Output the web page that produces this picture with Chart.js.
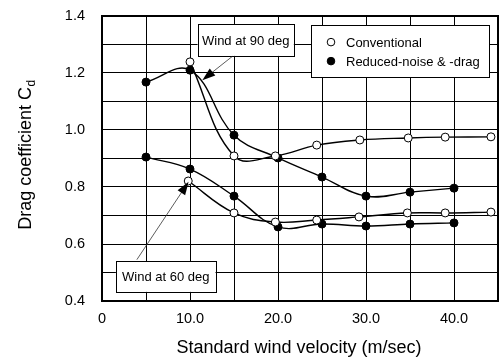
<!DOCTYPE html>
<html>
<head>
<meta charset="utf-8">
<script src="https://cdn.jsdelivr.net/npm/chart.js@4/dist/chart.umd.min.js"></script>
<style>
html,body{margin:0;padding:0;background:#fff;}
#wrap{width:503px;height:363px;position:relative;}
</style>
</head>
<body>
<div id="wrap"><canvas id="c" width="503" height="363"></canvas></div>
<script>
// ---- data ----
const conv90X = [10, 15, 19.7, 24.4, 29.3, 34.8, 39.0, 44.2];
const conv90Y = [1.239, 0.909, 0.909, 0.947, 0.965, 0.972, 0.975, 0.976];
const red90X  = [5, 10, 15, 20, 25, 30, 35, 40];
const red90Y  = [1.168, 1.21, 0.982, 0.902, 0.835, 0.768, 0.782, 0.796];
const conv60X = [9.8, 15, 19.7, 24.4, 29.2, 34.7, 39.0, 44.2];
const conv60Y = [0.821, 0.709, 0.677, 0.684, 0.695, 0.709, 0.709, 0.712];
const red60X  = [5, 10, 15, 20, 25, 30, 35, 40];
const red60Y  = [0.905, 0.863, 0.768, 0.660, 0.670, 0.663, 0.670, 0.674];

const legendLabels = ['Conventional', 'Reduced-noise & -drag'];
const xTitle = 'Standard wind velocity (m/sec)';
const yTitle = 'Drag coefficient C';
const yTitleSub = 'd';
const note90 = 'Wind at 90 deg';
const note60 = 'Wind at 60 deg';

const pts = (xs, ys) => xs.map((x, i) => ({x, y: ys[i]}));

const FONT = '"Liberation Sans", Arial, sans-serif';

function ds(xs, ys, filled) {
  return {
    data: pts(xs, ys),
    showLine: true,
    borderColor: '#000',
    borderWidth: 1.4,
    tension: 0.4,
    pointRadius: 4,
    pointBorderWidth: 1,
    pointBorderColor: '#000',
    pointBackgroundColor: filled ? '#000' : '#fff',
    pointHoverRadius: 4,
    fill: false
  };
}

// annotation config in data units
const notes = [
  {text: note90, x0: 10.86, x1: 21.8, y0: 1.372, y1: 1.260, ax: 14.8, ay: 1.258, tx: 11.4, ty: 1.175},
  {text: note60, x0: 1.58, x1: 12.9, y0: 0.540, y1: 0.432, ax: 3.96, ay: 0.545, tx: 9.84, ty: 0.818}
];
const legendBox = {x0: 23.75, x1: 44.0, y0: 1.368, y1: 1.186};

const overlay = {
  id: 'overlay',
  afterDatasetsDraw(chart) {
    const ctx = chart.ctx, xs = chart.scales.x, ys = chart.scales.y, a = chart.chartArea;
    ctx.save();
    // frame
    ctx.strokeStyle = '#000';
    ctx.lineWidth = 2;
    ctx.strokeRect(a.left, a.top, a.right - a.left, a.bottom - a.top);

    // annotations
    ctx.font = '13px ' + FONT;
    notes.forEach(n => {
      const L = xs.getPixelForValue(n.x0), R = xs.getPixelForValue(n.x1);
      const T = ys.getPixelForValue(n.y0), B = ys.getPixelForValue(n.y1);
      ctx.fillStyle = '#fff';
      ctx.fillRect(L, T, R - L, B - T);
      ctx.strokeStyle = '#000';
      ctx.lineWidth = 1;
      ctx.strokeRect(Math.round(L) + 0.5, Math.round(T) + 0.5, Math.round(R - L), Math.round(B - T));
      ctx.fillStyle = '#000';
      ctx.textAlign = 'center';
      ctx.textBaseline = 'middle';
      ctx.fillText(n.text, (L + R) / 2, (T + B) / 2 + 1);
      // arrow
      const sx = xs.getPixelForValue(n.ax), sy = ys.getPixelForValue(n.ay);
      const ex = xs.getPixelForValue(n.tx), ey = ys.getPixelForValue(n.ty);
      const ang = Math.atan2(ey - sy, ex - sx);
      const hl = 13, hw = 4.5;
      ctx.strokeStyle = '#333';
      ctx.lineWidth = 0.8;
      ctx.beginPath();
      ctx.moveTo(sx, sy);
      ctx.lineTo(ex - Math.cos(ang) * hl * 0.8, ey - Math.sin(ang) * hl * 0.8);
      ctx.stroke();
      ctx.fillStyle = '#000';
      ctx.beginPath();
      ctx.moveTo(ex, ey);
      const bx = ex - Math.cos(ang) * hl, by = ey - Math.sin(ang) * hl;
      ctx.lineTo(bx + Math.sin(ang) * hw, by - Math.cos(ang) * hw);
      ctx.lineTo(bx - Math.sin(ang) * hw, by + Math.cos(ang) * hw);
      ctx.closePath();
      ctx.fill();
    });

    // legend
    {
      const L = xs.getPixelForValue(legendBox.x0), R = xs.getPixelForValue(legendBox.x1);
      const T = ys.getPixelForValue(legendBox.y0), B = ys.getPixelForValue(legendBox.y1);
      ctx.fillStyle = '#fff';
      ctx.fillRect(L, T, R - L, B - T);
      ctx.strokeStyle = '#000';
      ctx.lineWidth = 1;
      ctx.strokeRect(Math.round(L) + 0.5, Math.round(T) + 0.5, Math.round(R - L), Math.round(B - T));
      ctx.font = '13px ' + FONT;
      ctx.textAlign = 'left';
      ctx.textBaseline = 'middle';
      legendLabels.forEach((lab, i) => {
        const cy = T + 17 + i * 19;
        ctx.beginPath();
        ctx.arc(L + 20, cy, 3.8, 0, Math.PI * 2);
        ctx.fillStyle = i === 0 ? '#fff' : '#000';
        ctx.fill();
        ctx.strokeStyle = '#000';
        ctx.lineWidth = 1;
        ctx.stroke();
        ctx.fillStyle = '#000';
        ctx.fillText(lab, L + 35, cy + 1);
      });
    }

    // axis titles
    ctx.fillStyle = '#000';
    ctx.font = '18px ' + FONT;
    ctx.textAlign = 'center';
    ctx.textBaseline = 'middle';
    ctx.fillText(xTitle, 299, 348);

    ctx.save();
    ctx.translate(24, 155);
    ctx.rotate(-Math.PI / 2);
    ctx.font = '18px ' + FONT;
    const w1 = ctx.measureText(yTitle).width;
    ctx.font = '12px ' + FONT;
    const w2 = ctx.measureText(yTitleSub).width;
    const start = -(w1 + w2) / 2;
    ctx.textAlign = 'left';
    ctx.textBaseline = 'alphabetic';
    ctx.font = '18px ' + FONT;
    ctx.fillText(yTitle, start, 7);
    ctx.font = '12px ' + FONT;
    ctx.fillText(yTitleSub, start + w1 + 0.5, 11);
    ctx.restore();

    ctx.restore();
  }
};

new Chart(document.getElementById('c'), {
  type: 'scatter',
  data: {
    datasets: [
      ds(conv90X, conv90Y, false),
      ds(red90X, red90Y, true),
      ds(conv60X, conv60Y, false),
      ds(red60X, red60Y, true)
    ]
  },
  options: {
    responsive: false,
    animation: false,
    events: [],
    layout: {padding: {left: 0, right: 3, top: 16, bottom: 0}},
    plugins: {legend: {display: false}, tooltip: {enabled: false}},
    scales: {
      x: {
        type: 'linear', min: 0, max: 45,
        afterFit(s) { s.height = 62; s.paddingLeft = 0; s.paddingRight = 0; },
        grid: {color: '#000', lineWidth: 1, drawTicks: false},
        border: {display: false},
        ticks: {
          stepSize: 5, padding: 9, color: '#000', maxRotation: 0, autoSkip: false,
          font: {family: FONT, size: 14.5},
          callback: v => v === 0 ? '0' : (v % 10 === 0 && v < 45 ? v.toFixed(1) : '')
        }
      },
      y: {
        type: 'linear', min: 0.4, max: 1.4,
        afterFit(s) { s.width = 102; s.paddingTop = 0; s.paddingBottom = 0; },
        grid: {color: '#000', lineWidth: 1, drawTicks: false},
        border: {display: false},
        ticks: {
          stepSize: 0.1, padding: 17, color: '#000', autoSkip: false,
          font: {family: FONT, size: 14.5},
          callback: v => (Math.round(v * 10) % 2 === 0) ? v.toFixed(1) : ''
        }
      }
    }
  },
  plugins: [overlay]
});
</script>
</body>
</html>
